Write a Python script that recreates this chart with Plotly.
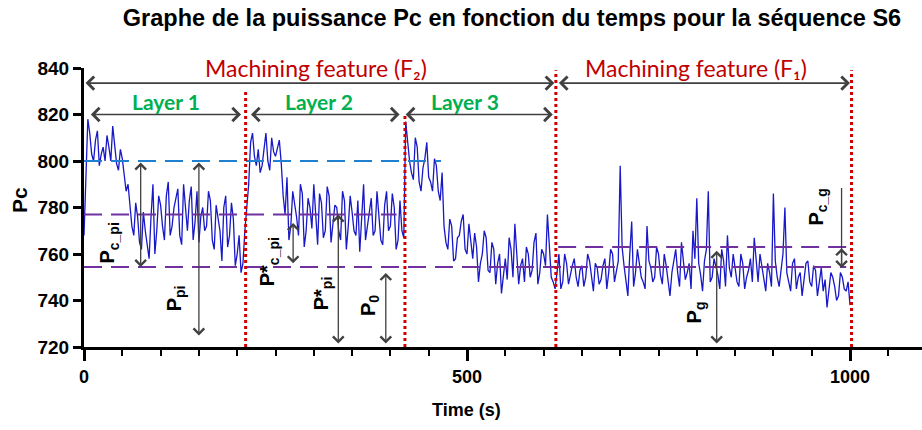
import plotly.graph_objects as go

# ---------------- data ----------------
# samples read on a 5 s grid (t = 0, 5, ..., 1000)
time_main = list(range(0, 1001, 5))
power_main = [
    768, 818, 803, 809, 798, 806, 811, 800, 808, 796,
    801, 787, 780, 768, 776, 762, 770, 758, 790, 770,
    781, 766, 791, 772, 784, 768, 790, 770, 789, 774,
    765, 780, 772, 783, 762, 776, 757, 785, 768, 775,
    760, 752, 770, 790, 812, 798, 795, 805, 800, 810,
    802, 809, 785, 793, 772, 782, 768, 786, 770, 780,
    790, 764, 782, 770, 785, 774, 780, 766, 783, 772,
    778, 768, 761, 790, 772, 784, 770, 778, 764, 787,
    772, 780, 766, 770, 817, 800, 792, 806, 787, 801,
    793, 787, 798, 783, 772, 762, 772, 758, 768, 777,
    760, 766, 769, 748, 760, 767, 752, 762, 756, 743,
    758, 767, 750, 762, 755, 748, 760, 753, 769, 752,
    760, 777, 750, 745, 760, 748, 756, 752, 758, 746,
    755, 750, 757, 744, 754, 749, 758, 752, 760, 753,
    798, 755, 742, 774, 752, 756, 748, 772, 754, 750,
    760, 747, 755, 742, 758, 752, 765, 749, 756, 770,
    784, 751, 757, 787, 750, 755, 745, 757, 768, 750,
    754, 746, 756, 750, 758, 767, 748, 755, 744, 752,
    786, 750, 754, 780, 748, 756, 745, 752, 749, 757,
    746, 753, 748, 744, 737, 752, 746, 742, 750, 744,
    738,
]
# samples read in between (t = 2.5, 7.5, ..., 997.5)
time_mid = [t + 2.5 for t in range(0, 1000, 5)]
power_mid = [
    790, 812, 800, 813, 803, 800, 806, 815, 799, 805,
    793, 790, 772, 782, 765, 778, 764, 776, 760, 785,
    772, 785, 768, 780, 788, 764, 779, 783, 766, 787,
    776, 770, 787, 766, 781, 770, 780, 763, 782, 755,
    768, 756, 780, 808, 802, 805, 798, 812, 796, 804,
    806, 799, 777, 766, 787, 776, 790, 763, 784, 771,
    778, 786, 767, 789, 765, 781, 770, 787, 762, 785,
    770, 783, 775, 766, 780, 768, 787, 766, 781, 770,
    786, 762, 783, 767, 808, 795, 810, 791, 797, 808,
    791, 801, 787, 795, 765, 775, 757, 767, 774, 762,
    773, 758, 763, 756, 770, 753, 765, 747, 760, 752,
    749, 762, 773, 747, 758, 763, 750, 765, 747, 762,
    755, 763, 748, 752, 745, 760, 747, 755, 750, 753,
    746, 760, 750, 756, 747, 755, 745, 762, 748, 757,
    763, 749, 760, 746, 762, 750, 745, 757, 748, 763,
    751, 760, 748, 752, 762, 746, 757, 752, 745, 758,
    756, 744, 762, 748, 758, 751, 762, 746, 754, 760,
    748, 760, 745, 753, 748, 756, 760, 749, 756, 746,
    757, 746, 760, 752, 744, 758, 750, 742, 756, 748,
    755, 742, 754, 749, 746, 750, 740, 752, 745, 748,
]

x_ticks = [0, 500, 1000]
y_ticks = [720, 740, 760, 780, 800, 820, 840]

# reference levels
level_blue = 800
level_upper = 777
level_lower = 754.4
level_g = 763
boundaries = [211, 419, 616, 1002]
boundary_tops = [831, 820, 839, 839]

title_text = "Graphe de la puissance Pc en fonction du temps pour la séquence S6"

RED = "#c00000"
GREEN = "#00b050"
GRAY = "#404040"
PURPLE = "#7030a0"
BLUE_D = "#1f7fd0"
LBL = "Liberation Sans"

pairs = sorted(list(zip(time_main, power_main)) + list(zip(time_mid, power_mid)))
time_s = [p[0] for p in pairs]
power_pc = [p[1] for p in pairs]

fig = go.Figure()
fig.add_trace(go.Scatter(x=time_s, y=power_pc, mode="lines",
                         line=dict(color="#1818c8", width=1.3),
                         showlegend=False, hoverinfo="skip"))

shapes = []
dash = "18px,9px"
shapes.append(dict(type="line", xref="x", yref="y", x0=0, x1=466, y0=level_blue, y1=level_blue,
                   line=dict(color=BLUE_D, width=2, dash=dash)))
shapes.append(dict(type="line", xref="x", yref="y", x0=0, x1=408, y0=level_upper, y1=level_upper,
                   line=dict(color=PURPLE, width=2, dash=dash)))
shapes.append(dict(type="line", xref="x", yref="y", x0=0, x1=995, y0=level_lower, y1=level_lower,
                   line=dict(color=PURPLE, width=2, dash=dash)))
shapes.append(dict(type="line", xref="x", yref="y", x0=619, x1=997, y0=level_g, y1=level_g,
                   line=dict(color=PURPLE, width=2, dash=dash)))
for bx, top in zip(boundaries, boundary_tops):
    shapes.append(dict(type="line", xref="x", yref="y", x0=bx, x1=bx, y0=720, y1=top,
                       line=dict(color="#d00000", width=3, dash="dot")))

annotations = []

def harrow(x0, x1, y):
    annotations.append(dict(x=x1, y=y, ax=x0, ay=y, xref="x", yref="y", axref="x", ayref="y",
                            text="", showarrow=True, arrowhead=4, startarrowhead=4,
                            arrowside="end+start", arrowsize=1.6, startarrowsize=1.6,
                            arrowwidth=1.6, arrowcolor=GRAY))

def varrow(x, y0, y1, both=True):
    annotations.append(dict(x=x, y=y1, ax=x, ay=y0, xref="x", yref="y", axref="x", ayref="y",
                            text="", showarrow=True, arrowhead=4, startarrowhead=4,
                            arrowside="end+start" if both else "end",
                            arrowsize=1.6, startarrowsize=1.6,
                            arrowwidth=1.3, arrowcolor=GRAY))

harrow(0, 614, 833.5)
harrow(618, 1000, 833.5)
harrow(7, 205, 820)
harrow(216, 412, 820)
harrow(418, 612, 820)

varrow(74, 800, 754.4)
varrow(150, 800, 725)
varrow(273, 774, 756)
varrow(332, 777.6, 721.5)
varrow(394, 752.5, 721.5)
varrow(826, 762, 721.5)
varrow(989, 789, 754, both=False)
varrow(989, 755, 762.5, both=False)

def text(x, y, s, color, size, weight="normal", family="Lato", angle=0):
    annotations.append(dict(x=x, y=y, xref="x", yref="y", text=s,
                            showarrow=False, textangle=angle, xanchor="center", yanchor="middle",
                            font=dict(family=family, size=size, color=color, weight=weight)))

text(303, 840, "Machining feature (F₂)", RED, 23)
text(799, 840, "Machining feature (F₁)", RED, 23)
text(107, 825.5, "Layer 1", GREEN, 21, weight="bold")
text(307, 825.5, "Layer 2", GREEN, 21, weight="bold")
text(498, 825.5, "Layer 3", GREEN, 21, weight="bold")

text(32, 764.7, "P<sub>c_pi</sub>", "black", 20, weight="bold", family=LBL, angle=-90)
text(119, 741, "P<sub>pi</sub>", "black", 20, weight="bold", family=LBL, angle=-90)
text(242, 756.6, "P*<sub>c_pi</sub>", "black", 20, weight="bold", family=LBL, angle=-90)
text(311, 743.2, "P*<sub>pi</sub>", "black", 20, weight="bold", family=LBL, angle=-90)
text(372, 738, "P<sub>0</sub>", "black", 20, weight="bold", family=LBL, angle=-90)
text(798, 735, "P<sub>g</sub>", "black", 20, weight="bold", family=LBL, angle=-90)
text(957, 780, "P<sub>c_g</sub>", "black", 20, weight="bold", family=LBL, angle=-90)

# axis titles
annotations.append(dict(x=-0.0764, y=0.527, xref="paper", yref="paper", text="Pc",
                        showarrow=False, textangle=-90, xanchor="center", yanchor="middle",
                        font=dict(family=LBL, size=21, color="black", weight="bold")))
annotations.append(dict(x=0.456, y=-0.226, xref="paper", yref="paper", text="Time (s)",
                        showarrow=False, xanchor="center", yanchor="middle",
                        font=dict(family=LBL, size=18, color="black", weight="bold")))

fig.update_layout(
    width=922, height=430,
    margin=dict(l=84, r=0, t=68, b=83),
    plot_bgcolor="white", paper_bgcolor="white",
    title=dict(text=title_text, x=512 / 922, xanchor="center",
               y=1 - 18 / 430, yanchor="middle", xref="container", yref="container",
               font=dict(family=LBL, size=23.5, color="black", weight="bold")),
    shapes=shapes, annotations=annotations,
    xaxis=dict(range=[0, 1094], tickvals=x_ticks, showgrid=False, zeroline=False,
               showline=True, linecolor="black", linewidth=3,
               ticks="outside", ticklen=11, tickwidth=3, tickcolor="black",
               tickfont=dict(family=LBL, size=18, color="black", weight="bold"),
               minor=dict(dtick=50, tick0=0, ticks="outside", ticklen=6, tickwidth=2,
                          tickcolor="black", showgrid=False)),
    yaxis=dict(range=[720, 840], tickvals=y_ticks, showgrid=False, zeroline=False,
               showline=True, linecolor="black", linewidth=3,
               ticks="outside", ticklen=8, tickwidth=3, tickcolor="black",
               tickfont=dict(family=LBL, size=19, color="black", weight="bold")),
)

fig.write_html("out.html")
